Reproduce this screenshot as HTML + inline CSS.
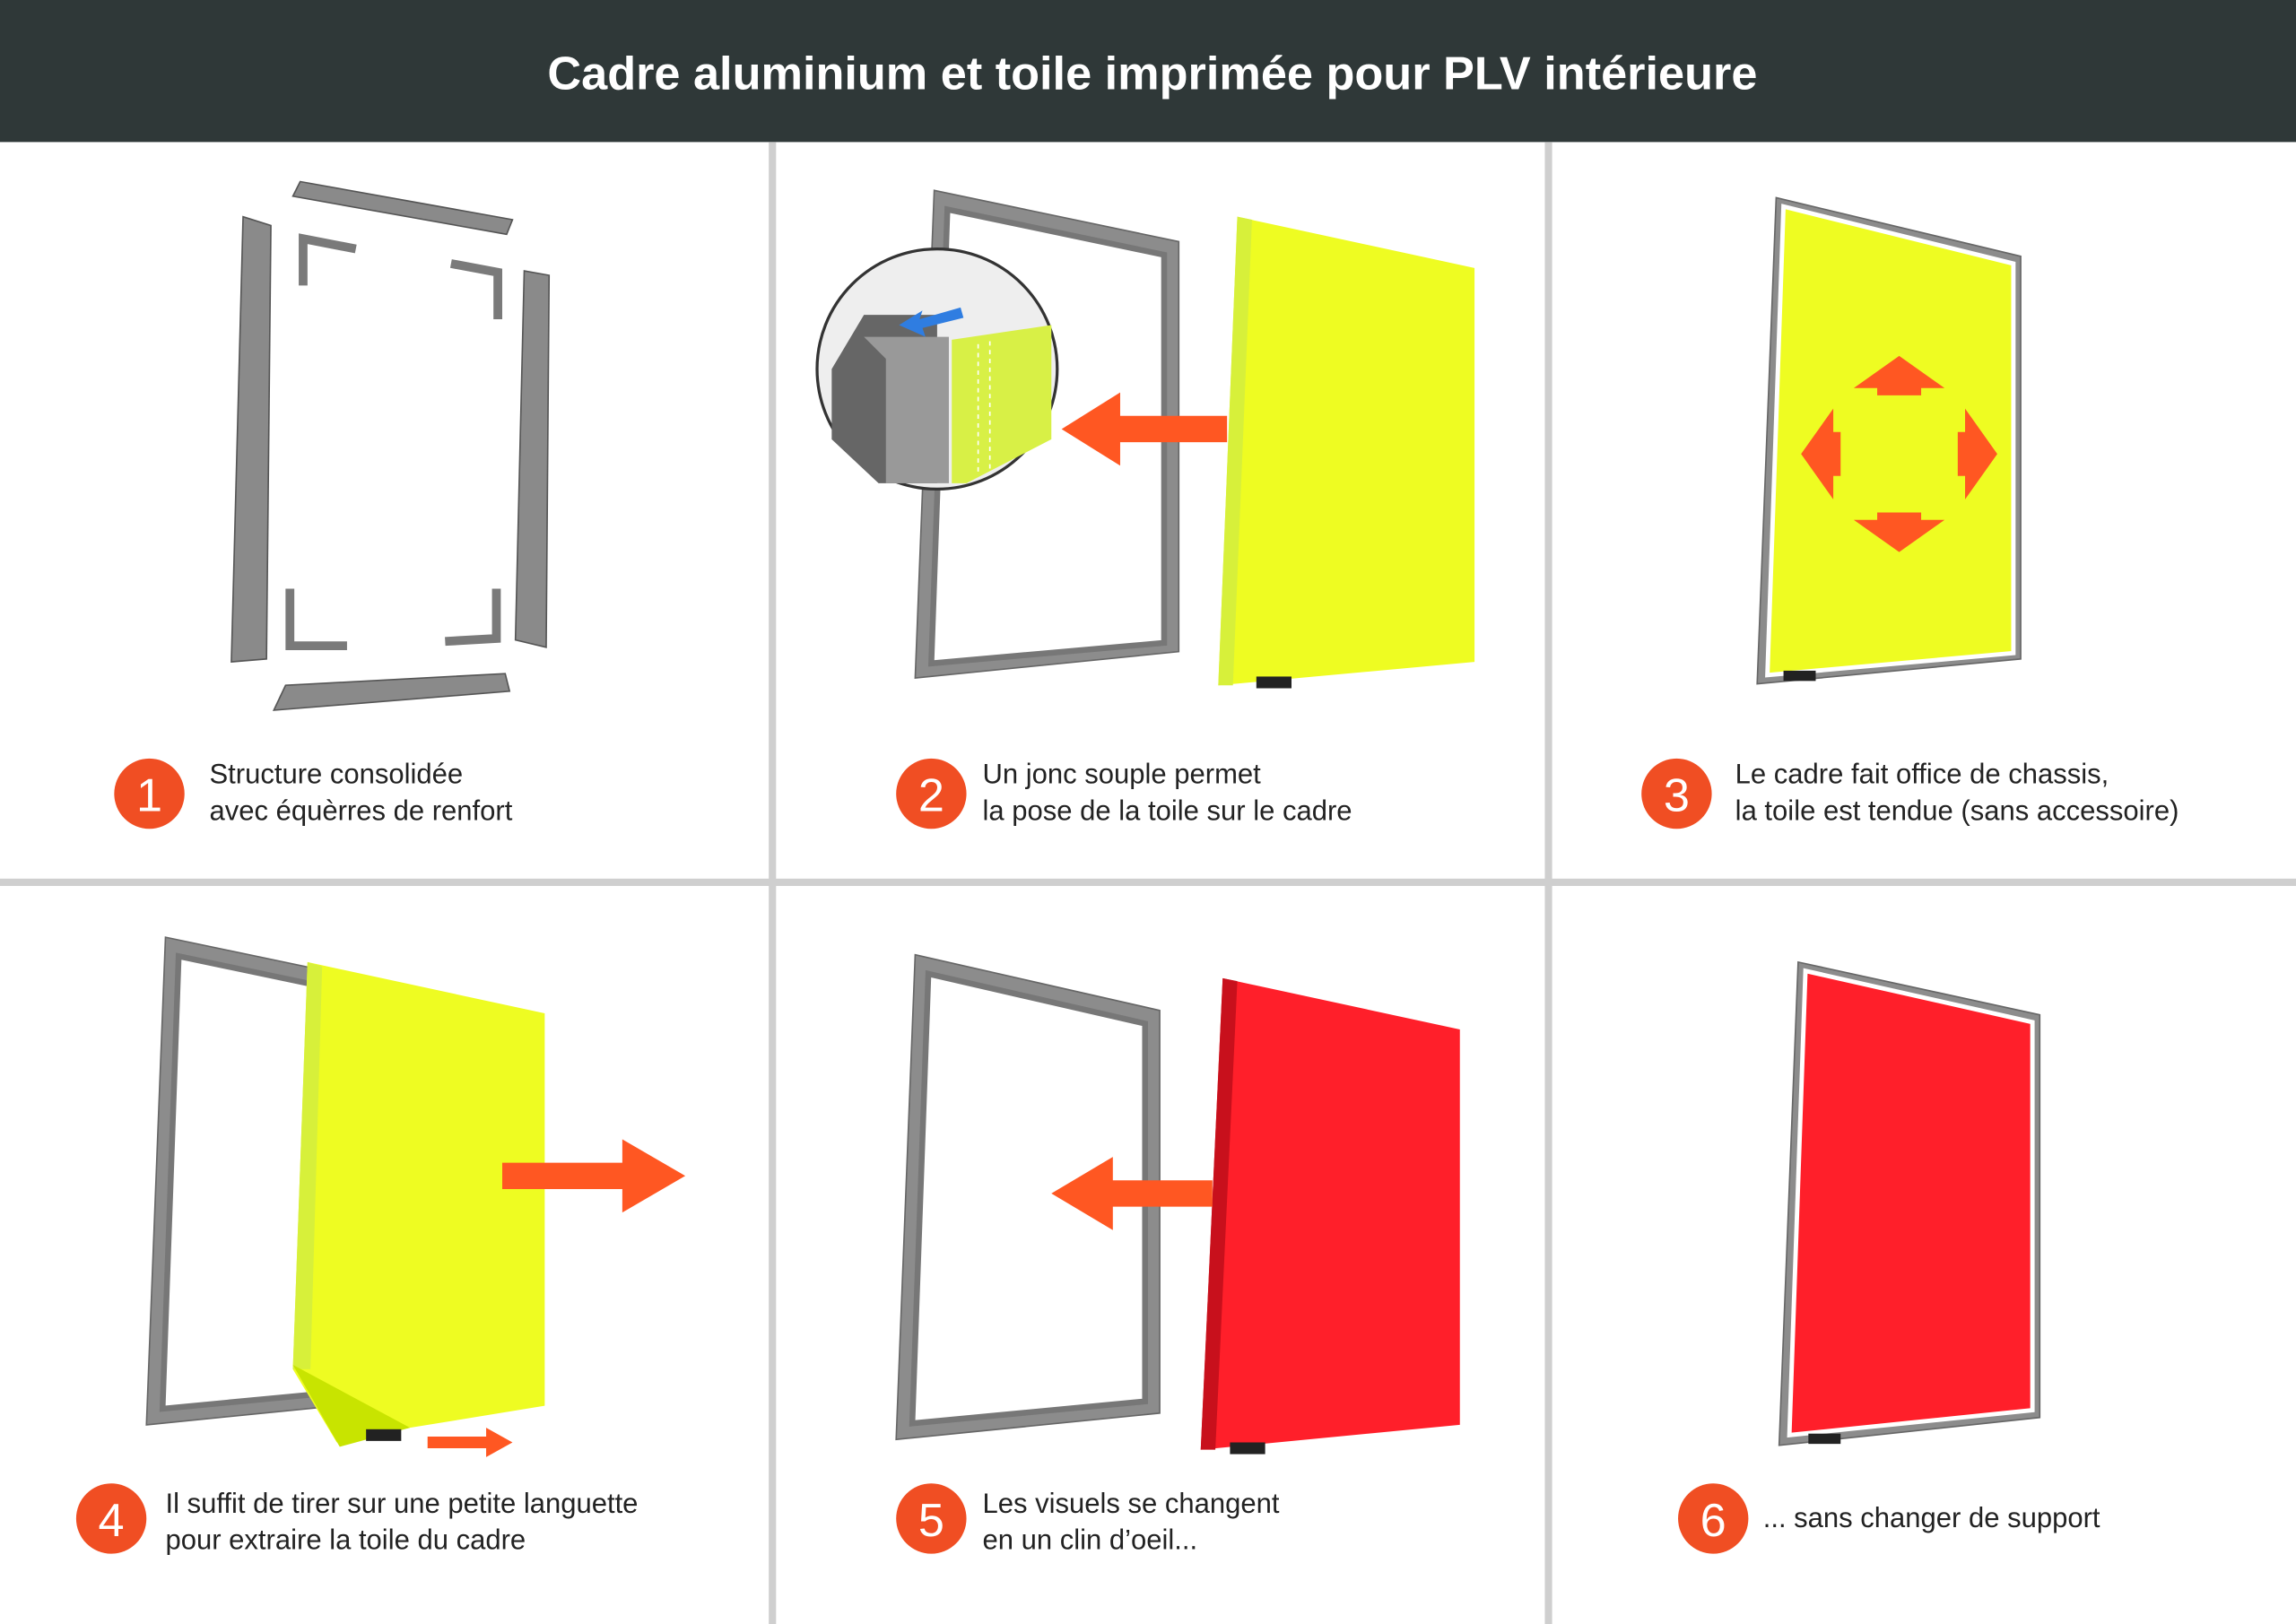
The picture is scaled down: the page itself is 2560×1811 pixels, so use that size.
<!DOCTYPE html>
<html><head><meta charset="utf-8"><style>
html,body{margin:0;padding:0;background:#fff}
svg{display:block}
text{font-family:"Liberation Sans",sans-serif}
</style></head><body>
<svg width="2560" height="1811" viewBox="0 0 1568 1109" preserveAspectRatio="none" xmlns="http://www.w3.org/2000/svg">
<rect width="1568" height="1109" fill="#fff"/>
<rect width="1568" height="97" fill="#2f3838"/>
<text x="787" y="61" text-anchor="middle" fill="#fff" font-size="32" font-weight="bold">Cadre aluminium et toile imprimée pour PLV intérieure</text>
<g fill="#cfcfcf">
<rect x="525" y="97" width="5" height="1012"/>
<rect x="1055" y="97" width="5" height="1012"/>
<rect x="0" y="600" width="1568" height="5"/>
</g>
<!-- Panel 1 -->
<g fill="#8a8a8a" stroke="#555" stroke-width="1">
<polygon points="205,124 350,150 346,160 200,134"/>
<polygon points="166,148 185,154 182,450 158,452"/>
<polygon points="358,185 375,188 373,442 352,437"/>
<polygon points="195,468 345,460 348,472 187,485"/>
</g>
<g fill="none" stroke="#7a7a7a" stroke-width="6">
<polyline points="207,195 207,163 243,170"/>
<polyline points="308,180 340,186 340,218"/>
<polyline points="198,402 198,441 237,441"/>
<polyline points="304,438 339,436 339,402"/>
</g>
<!-- Panel 2 -->
<polygon points="638,130 805,165 805,445 625,463" fill="#8c8c8c" stroke="#666"/>
<polygon points="647,143 795,174 795,439 636,453" fill="#fff" stroke="#777" stroke-width="4"/>
<polygon points="845,148 1007,183 1007,452 832,468" fill="#eefc22"/>
<polygon points="845,148 855,150 842,468 832,468" fill="#d7f03a"/>
<rect x="858" y="462" width="24" height="8" fill="#222"/>
<polygon points="838,284 765,284 765,268 725,293 765,318 765,302 838,302" fill="#ff5722"/>
<circle cx="640" cy="252" r="82" fill="#eee" stroke="#333" stroke-width="2"/>
<polygon points="568,252 590,215 640,215 640,330 600,330 568,300" fill="#666"/>
<polygon points="590,230 648,230 648,330 605,330 605,245" fill="#999"/>
<polygon points="650,232 718,222 718,300 660,330 650,330" fill="#d8f046"/>
<line x1="668" y1="235" x2="668" y2="325" stroke="#fff" stroke-dasharray="3,3"/>
<line x1="676" y1="233" x2="676" y2="322" stroke="#fff" stroke-dasharray="3,3"/>
<polygon points="656,210 628,218 630,212 614,222 632,230 630,224 658,217" fill="#2f7de1"/>
<!-- Panel 3 -->
<polygon points="1213,135 1380,175 1380,450 1200,467" fill="#8c8c8c" stroke="#666"/>
<polygon points="1218,141 1375,180 1375,446 1207,461" fill="#eefc22" stroke="#fff" stroke-width="3"/>
<rect x="1218" y="458" width="22" height="7" fill="#222"/>
<g fill="#ff5722">
<polygon points="1297,243 1328,265 1312,265 1312,270 1282,270 1282,265 1266,265"/>
<polygon points="1297,377 1328,355 1312,355 1312,350 1282,350 1282,355 1266,355"/>
<polygon points="1230,310 1252,279 1252,295 1257,295 1257,325 1252,325 1252,341"/>
<polygon points="1364,310 1342,279 1342,295 1337,295 1337,325 1342,325 1342,341"/>
</g>
<!-- Panel 4 -->
<polygon points="113,640 280,675 280,955 100,973" fill="#8c8c8c" stroke="#666"/>
<polygon points="122,653 270,684 270,947 111,962" fill="#fff" stroke="#777" stroke-width="4"/>
<polygon points="210,657 372,692 372,960 280,975 230,985 200,935" fill="#eefc22"/>
<polygon points="210,657 220,660 212,935 200,935" fill="#d7f03a"/>
<polygon points="200,932 280,975 232,988" fill="#c8e400"/>
<rect x="250" y="976" width="24" height="8" fill="#222"/>
<polygon points="343,794 425,794 425,778 468,803 425,828 425,812 343,812" fill="#ff5722"/>
<polygon points="292,981 332,981 332,975 350,985 332,995 332,989 292,989" fill="#ff5722"/>
<!-- Panel 5 -->
<polygon points="625,652 792,690 792,965 612,983" fill="#8c8c8c" stroke="#666"/>
<polygon points="634,665 782,699 782,957 623,972" fill="#fff" stroke="#777" stroke-width="4"/>
<polygon points="835,668 997,703 997,973 820,990" fill="#ff1f2a"/>
<polygon points="835,668 845,670 830,990 820,990" fill="#c8101c"/>
<rect x="840" y="985" width="24" height="8" fill="#222"/>
<polygon points="828,806 760,806 760,790 718,815 760,840 760,824 828,824" fill="#ff5722"/>
<!-- Panel 6 -->
<polygon points="1228,657 1393,693 1393,968 1215,987" fill="#8c8c8c" stroke="#666"/>
<polygon points="1233,663 1388,698 1388,963 1222,980" fill="#ff1f2a" stroke="#fff" stroke-width="3"/>
<rect x="1235" y="979" width="22" height="7" fill="#222"/>
<!-- Labels -->
<g fill="#f04e23">
<circle cx="102" cy="542" r="24"/><circle cx="636" cy="542" r="24"/><circle cx="1145" cy="542" r="24"/>
<circle cx="76" cy="1037" r="24"/><circle cx="636" cy="1037" r="24"/><circle cx="1170" cy="1037" r="24"/>
</g>
<g fill="#fff" font-size="32" text-anchor="middle">
<text x="102" y="554">1</text><text x="636" y="554">2</text><text x="1145" y="554">3</text>
<text x="76" y="1049">4</text><text x="636" y="1049">5</text><text x="1170" y="1049">6</text>
</g>
<g fill="#222" font-size="19">
<text x="143" y="535">Structure consolidée</text><text x="143" y="560">avec équèrres de renfort</text>
<text x="671" y="535">Un jonc souple permet</text><text x="671" y="560">la pose de la toile sur le cadre</text>
<text x="1185" y="535">Le cadre fait office de chassis,</text><text x="1185" y="560">la toile est tendue  (sans accessoire)</text>
<text x="113" y="1033">Il suffit de tirer sur une petite languette</text><text x="113" y="1058">pour extraire la toile du cadre</text>
<text x="671" y="1033">Les visuels se changent</text><text x="671" y="1058">en un clin d’oeil...</text>
<text x="1204" y="1043">... sans changer de support</text>
</g>
</svg>
</body></html>
